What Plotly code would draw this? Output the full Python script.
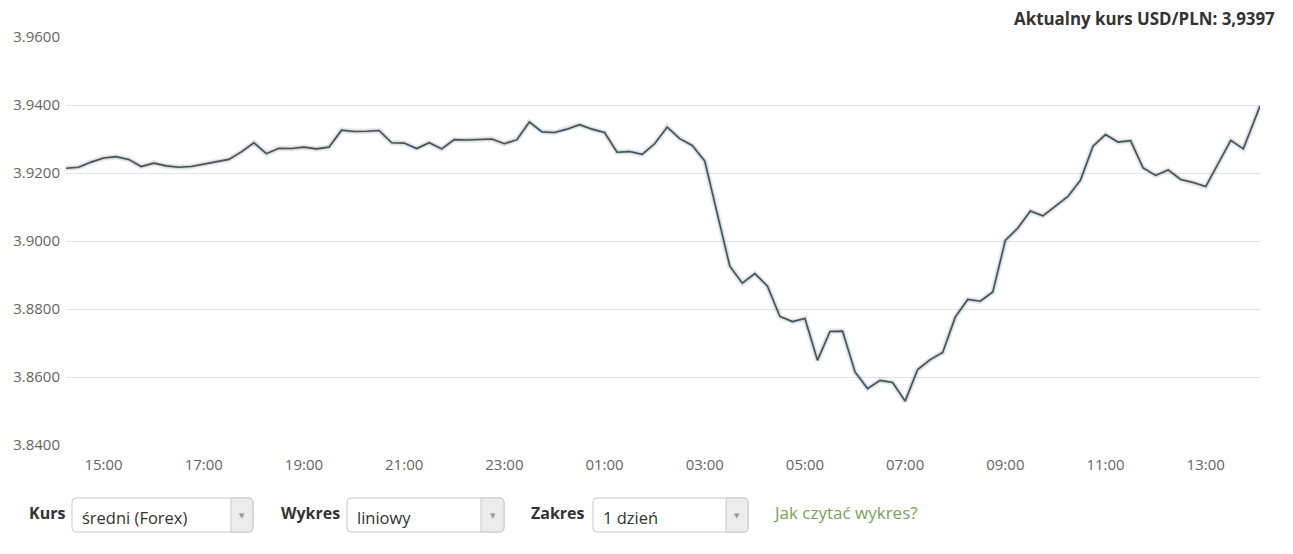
import plotly.graph_objects as go
import pandas as pd

# ---- data ----
start_time = "2020-03-11 14:15"
rate_15min = [
    3.9214, 3.9217, 3.9232, 3.9244, 3.9248, 3.9240, 3.9219, 3.9229, 3.9221, 3.9217,
    3.9219, 3.9226, 3.9234, 3.9240, 3.9262, 3.9289, 3.9257, 3.9273, 3.9272, 3.9276,
    3.9271, 3.9276, 3.9326, 3.9322, 3.9323, 3.9325, 3.9289, 3.9288, 3.9272, 3.9289,
    3.9271, 3.9298, 3.9297, 3.9298, 3.9300, 3.9286, 3.9298, 3.9350, 3.9321, 3.9319,
    3.9329, 3.9342, 3.9329, 3.9319, 3.9261, 3.9263, 3.9255, 3.9286, 3.9335, 3.9301,
    3.9281, 3.9235, 3.9081, 3.8926, 3.8876, 3.8904, 3.8868, 3.8778, 3.8763, 3.8772,
    3.8649, 3.8734, 3.8735, 3.8615, 3.8566, 3.8590, 3.8584, 3.8529, 3.8622, 3.8651,
    3.8672, 3.8776, 3.8828, 3.8823, 3.8850, 3.9002, 3.9038, 3.9088, 3.9074, 3.9103,
    3.9131, 3.9179, 3.9279, 3.9313, 3.9291, 3.9295, 3.9215, 3.9193, 3.9209, 3.9181,
    3.9172, 3.9160, 3.9229, 3.9296, 3.9271,
]
last_time = "2020-03-12 14:05"
last_rate = 3.9397
y_ticks = [3.84, 3.86, 3.88, 3.90, 3.92, 3.94, 3.96]
title_text = "Aktualny kurs USD/PLN: 3,9397"
controls = [("Kurs", "średni (Forex)"), ("Wykres", "liniowy"), ("Zakres", "1 dzień")]
help_link = "Jak czytać wykres?"

times = list(pd.date_range(start_time, periods=len(rate_15min), freq="15min")) + [pd.Timestamp(last_time)]
rates = rate_15min + [last_rate]

# ---- layout geometry (page pixels; the page body has an 8px margin) ----
OFF = 8
W, H = 1293 - OFF, 554 - OFF
L, R, T, B = 66, 1260, 37, 445   # plot area in page pixels
def px(X):
    return (X - L) / (R - L)
def py(Y):
    return (B - Y) / (B - T)

fig = go.Figure()
# soft shadow
fig.add_trace(go.Scatter(x=times, y=rates, mode="lines",
                         line=dict(color="rgba(0,0,0,0.07)", width=6),
                         hoverinfo="skip", showlegend=False))
fig.add_trace(go.Scatter(x=times, y=rates, mode="lines",
                         line=dict(color="rgba(0,0,0,0.10)", width=3.5),
                         hoverinfo="skip", showlegend=False))
fig.add_trace(go.Scatter(x=times, y=rates, mode="lines",
                         line=dict(color="#3e555b", width=1.6),
                         showlegend=False, name="USD/PLN"))

shapes = []
annotations = []

annotations.append(dict(text=title_text, x=px(1276), y=py(19), xref="paper", yref="paper",
                        xanchor="right", yanchor="middle", showarrow=False, borderpad=0,
                        font=dict(family="Open Sans", size=16.9, color="#333333", weight="bold")))

def rounded_box(x0, y0, x1, y1, r, fill, line_color):
    X0, X1 = px(x0), px(x1)
    Y0, Y1 = py(y0), py(y1)
    rx = r / (R - L)
    ry = r / (B - T)
    path = (f"M {X0+rx},{Y0} L {X1-rx},{Y0} Q {X1},{Y0} {X1},{Y0-ry} "
            f"L {X1},{Y1+ry} Q {X1},{Y1} {X1-rx},{Y1} L {X0+rx},{Y1} "
            f"Q {X0},{Y1} {X0},{Y1+ry} L {X0},{Y0-ry} Q {X0},{Y0} {X0+rx},{Y0} Z")
    return dict(type="path", path=path, xref="paper", yref="paper",
                fillcolor=fill, line=dict(color=line_color, width=1), layer="above")

def right_box(x0, y0, x1, y1, r, fill):
    X0, X1 = px(x0), px(x1)
    Y0, Y1 = py(y0), py(y1)
    rx = r / (R - L)
    ry = r / (B - T)
    path = (f"M {X0},{Y0} L {X1-rx},{Y0} Q {X1},{Y0} {X1},{Y0-ry} "
            f"L {X1},{Y1+ry} Q {X1},{Y1} {X1-rx},{Y1} L {X0},{Y1} Z")
    return dict(type="path", path=path, xref="paper", yref="paper",
                fillcolor=fill, line=dict(color="#c8c8c8", width=1), layer="above")

label_x = [27, 279, 529]
box_x = [(72, 253, 231), (347, 504, 481), (593, 748, 726)]
box_top, box_bot = 498, 532
for (lab, val), lx0, (bx0, bx1, ax) in zip(controls, label_x, box_x):
    annotations.append(dict(text=lab, x=px(lx0), y=py(513), xref="paper", yref="paper",
                            xanchor="left", yanchor="middle", showarrow=False,
                            font=dict(family="Open Sans", size=16, color="#333333", weight="bold")))
    shapes.append(rounded_box(bx0, box_top, bx1, box_bot, 4, "#ffffff", "#c8c8c8"))
    shapes.append(right_box(ax, box_top, bx1, box_bot, 4, "#ececec"))
    annotations.append(dict(text=val, x=px(bx0 + 8), y=py(517), xref="paper", yref="paper",
                            xanchor="left", yanchor="middle", showarrow=False,
                            font=dict(family="Open Sans", size=16.5, color="#333333")))
    annotations.append(dict(text="▼", x=px((ax + bx1) / 2), y=py(516), xref="paper", yref="paper",
                            xanchor="center", yanchor="middle", showarrow=False,
                            font=dict(family="DejaVu Sans", size=7, color="#9a9a9a")))

annotations.append(dict(text=help_link, x=px(771), y=py(512), xref="paper", yref="paper",
                        xanchor="left", yanchor="middle", showarrow=False,
                        font=dict(family="Open Sans", size=17, color="#78a45a")))

fig.update_layout(
    width=W, height=H,
    margin=dict(l=L - OFF, r=W - (R - OFF), t=T - OFF, b=H - (B - OFF), pad=0, autoexpand=False),
    paper_bgcolor="white", plot_bgcolor="white",
    shapes=shapes, annotations=annotations,
    showlegend=False,
    font=dict(family="Open Sans", color="#666666", size=13),
    xaxis=dict(type="date", range=[times[0], times[-1]], automargin=False,
               tick0="2020-03-11 15:00", dtick=2 * 3600 * 1000, tickformat="%H:%M",
               showgrid=False, zeroline=False, showline=False, ticks="",
               ticklabelstandoff=9,
               tickfont=dict(family="Open Sans", size=15, color="#666666")),
    yaxis=dict(range=[3.84, 3.96], tickvals=y_ticks, tickformat=".4f", automargin=False,
               showgrid=True, gridcolor="#e3e3e3", gridwidth=1,
               zeroline=False, showline=False, ticks="",
               ticklabelstandoff=5,
               tickfont=dict(family="Open Sans", size=15, color="#666666")),
)

fig.write_html("out.html")
